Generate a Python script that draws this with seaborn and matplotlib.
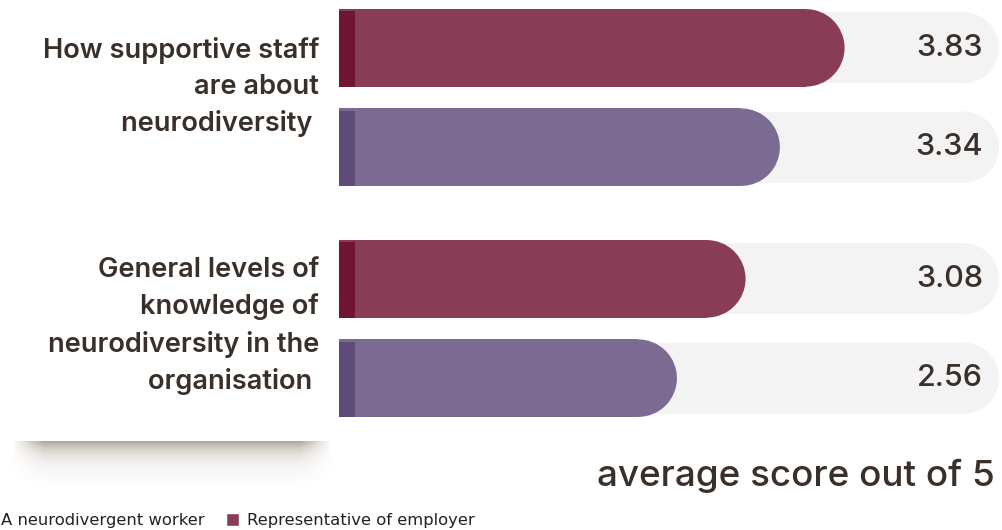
import numpy as np
import pandas as pd
import seaborn as sns
import matplotlib.pyplot as plt
from matplotlib.patches import Rectangle, Ellipse, Patch

# Data
questions = ['How supportive staff\nare about\nneurodiversity ',
             'General levels of\nknowledge of\nneurodiversity in the\norganisation ']
respondents = ['Representative of employer', 'A neurodivergent worker']
employer_scores = [3.83, 3.08]
worker_scores = [3.34, 2.56]
max_score = 5

df = pd.DataFrame({
    'question': questions * 2,
    'respondent': [respondents[0]] * 2 + [respondents[1]] * 2,
    'score': employer_scores + worker_scores,
})

bar_colors = {respondents[0]: '#893c55', respondents[1]: '#7b6a91'}
stripe_colors = {respondents[0]: '#701434', respondents[1]: '#5e4b7a'}
text_color = '#3b2f29'

sns.set_style('white')

W, H = 1002, 530
fig = plt.figure(figsize=(W / 100, H / 100), dpi=100)
ax = fig.add_axes([0, 0, 1, 1])

# pixel scales: x=0 at 339px, 132px per score unit; category spacing 231px
px_x = 132
px_y = 231
x0_px = 339

sns.barplot(data=df, y='question', x='score', hue='respondent', orient='h',
            hue_order=respondents, palette=bar_colors, saturation=1,
            width=0.86, gap=0.22, linewidth=0, legend=False, ax=ax)
ax.set_xlim(-x0_px / px_x, (W - x0_px) / px_x)
ax.set_ylim((H - 97.5) / px_y, -97.5 / px_y)
ax.axis('off')

bars = [p for p in ax.patches if isinstance(p, Rectangle)]
for p in bars:
    y0, h, w = p.get_y(), p.get_height(), p.get_width()
    yc = y0 + h / 2
    col = p.get_facecolor()
    rx = h * px_y / 2 / px_x
    # rounded end of bar
    p.set_width(w - rx)
    p.set_zorder(3)
    ax.add_patch(Ellipse((w - rx, yc), 2 * rx, h, facecolor=col, lw=0, zorder=3))
    # background track
    th = h * 0.92
    trx = th * px_y / 2 / px_x
    ax.add_patch(Rectangle((0, yc - th / 2), max_score - trx, th, facecolor='#f3f3f3', lw=0, zorder=1))
    ax.add_patch(Ellipse((max_score - trx, yc), 2 * trx, th, facecolor='#f3f3f3', lw=0, zorder=1))

# left stripes and value labels
for hi, resp in enumerate(respondents):
    scores = employer_scores if hi == 0 else worker_scores
    for qi, val in enumerate(scores):
        yc = qi + (-0.215 if hi == 0 else 0.215)
        h = 0.86 / 2 * 0.78
        ax.add_patch(Rectangle((0, yc - h / 2 + 0.01), 0.12, h - 0.01,
                               facecolor=stripe_colors[resp], lw=0, zorder=4))
        ax.text((983 - x0_px) / px_x, yc, f'{val:.2f}', ha='right', va='center',
                fontsize=22, color=text_color, family='Inter', fontweight='medium', zorder=5)

# question labels
for qi, q in enumerate(questions):
    off = -0.045 if qi == 0 else -0.01
    ax.text((319 - x0_px) / px_x, qi + off, q, ha='right', va='center', ma='right',
            fontsize=19.6, color=text_color, family='Inter', fontweight='semibold',
            linespacing=1.5, zorder=5)

# soft shadow under the label card
gy = np.linspace(0, 1, 40)[:, None]
gx = np.linspace(0, 1, 320)[None, :]
alpha = np.exp(-gy * 3.2) * np.clip(gx / 0.1, 0, 1) * np.clip((1 - gx) / 0.1, 0, 1) * 0.95
img = np.zeros((40, 320, 4))
img[..., 0] = 0.68
img[..., 1] = 0.63
img[..., 2] = 0.57
img[..., 3] = alpha
fig.figimage(img, xo=12, yo=H - 441 - 40, origin='upper', zorder=0)

fig.text(995 / W, 1 - 476 / H, 'average score out of 5', ha='right', va='center',
         fontsize=26.5, color=text_color, family='Inter', fontweight='medium')

handles = [Patch(facecolor=bar_colors[respondents[1]]), Patch(facecolor=bar_colors[respondents[0]])]
fig.legend(handles, [respondents[1], respondents[0]], ncol=2, loc='lower left',
           bbox_to_anchor=(-35 / W, -13 / H), frameon=False,
           handlelength=0.8, handleheight=0.8, handletextpad=0.5, columnspacing=1.3,
           labelcolor='#222222', prop={'family': 'DejaVu Sans', 'size': 11.8})

fig.savefig('out.png', dpi=100)
